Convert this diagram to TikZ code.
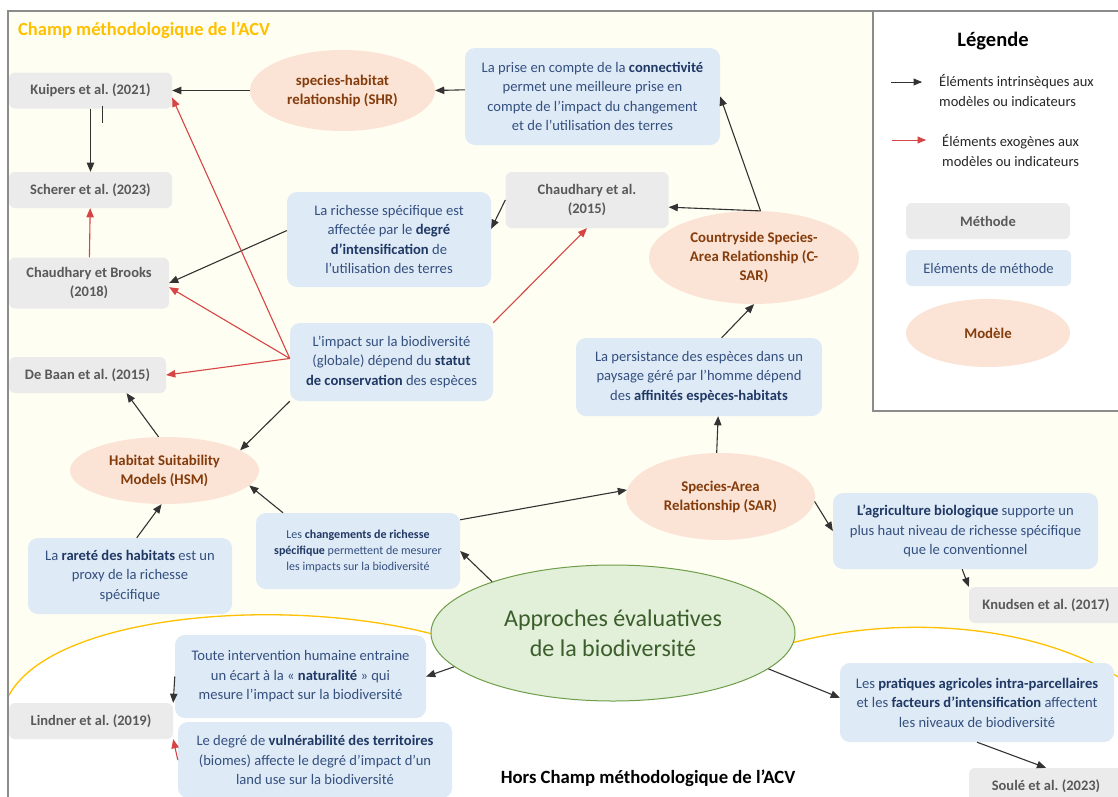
\documentclass[tikz,border=0pt]{standalone}
\usepackage{fontspec}
\setmainfont{Carlito}
\usepackage{tikz}
\usetikzlibrary{arrows}
\usetikzlibrary{positioning}
\usetikzlibrary{shapes,shapes.geometric}
\frenchspacing

\definecolor{creme}{HTML}{FFFEF2}
\definecolor{cadre}{HTML}{8C8C8C}
\definecolor{gris}{HTML}{EBEBEB}
\definecolor{grisfonce}{HTML}{595959}
\definecolor{bleu}{HTML}{DEEAF6}
\definecolor{bleufonce}{HTML}{34507F}
\definecolor{bleugras}{HTML}{1F3864}
\definecolor{saumon}{HTML}{FBE4D5}
\definecolor{brun}{HTML}{843C0C}
\definecolor{vert}{HTML}{E2EFD9}
\definecolor{vertbord}{HTML}{6E9E4A}
\definecolor{vertfonce}{HTML}{3B5E2B}
\definecolor{jaune}{HTML}{FFC000}
\definecolor{rouge}{HTML}{D64545}

\newcommand{\gras}[1]{{\bfseries\color{bleugras}#1}}
\newcommand{\taille}[2]{\fontsize{#1}{#2}\selectfont}

\begin{document}
\begin{tikzpicture}[x=1pt, y=-1pt, >=triangle 45,
  methode/.style={fill=gris, rounded corners=6pt, text=grisfonce, align=center,
    font=\taille{14.5}{19}\bfseries, inner sep=0pt},
  element/.style={fill=bleu, rounded corners=10pt, text=bleufonce, align=center,
    font=\taille{14.6}{19.5}, inner sep=0pt},
  modele/.style={ellipse, fill=saumon, text=brun, align=center,
    font=\taille{14.8}{19}\bfseries, inner sep=0pt},
  legende/.style={align=left, text=black!85, font=\taille{14.5}{20}, inner sep=0pt},
  lien/.style={->, draw=black!80, line width=1.1pt},
  exo/.style={->, draw=rouge, line width=1.1pt}]

\clip (0,0) rectangle (1118,796);
\fill [white] (0,0) rectangle (1118,796);
\fill [creme] (8,11) rectangle (1130,810);

% zone hors champ
\fill [white] (8,697) .. controls (60,595) and (400,590) .. (520,670) -- (720,670)
  .. controls (830,612) and (1040,605) .. (1150,700) -- (1150,810) -- (0,810) -- (0,697) -- cycle;
\draw [jaune, line width=1.3pt] (8,697) .. controls (60,595) and (400,590) .. (520,670);
\draw [jaune, line width=1.3pt] (720,670) .. controls (830,612) and (1040,605) .. (1150,700);
\draw [cadre, line width=1.2pt] (8,810) -- (8,11) -- (1130,11);

\node [anchor=west, text=jaune, font=\taille{18.5}{22}\bfseries, inner sep=0pt] (titre) at (18,30)
  {Champ méthodologique de l’ACV};
\node [font=\taille{18.7}{22}\bfseries, inner sep=0pt] (hors) at (648,778)
  {Hors Champ méthodologique de l’ACV};

% legende
\draw [cadre, fill=white, line width=1.2pt] (1130,11) -- (873,11) -- (873,411) -- (1130,411);
\node [font=\taille{20.5}{24}\bfseries, inner sep=0pt] (leg-titre) at (993,41) {Légende};
\coordinate (leg-d1) at (891,82);
\coordinate (leg-f1) at (922,82);
\coordinate (leg-d2) at (892,140);
\coordinate (leg-f2) at (926,140);
\draw [lien, line width=0.9pt] (leg-d1) -- (leg-f1);
\draw [exo, line width=0.9pt] (leg-d2) -- (leg-f2);
\node [legende, anchor=west] (leg-intr) at (939,90) {Éléments intrinsèques aux\\modèles ou indicateurs};
\node [legende, anchor=west] (leg-exo) at (942,150) {Éléments exogènes aux\\modèles ou indicateurs};
\node [methode, minimum width=164pt, minimum height=36pt] (leg-methode) at (988,221) {Méthode};
\node [element, minimum width=165pt, minimum height=36pt, rounded corners=6pt] (leg-element) at (988.5,268)
  {Eléments de méthode};
\node [modele, minimum width=164pt, minimum height=68pt] (leg-modele) at (988,333) {Modèle};

% methodes
\node [methode, minimum width=163pt, minimum height=36pt] (ref-kuipers) at (90.5,90.5) {Kuipers et al. (2021)};
\node [methode, minimum width=163pt, minimum height=36pt] (ref-scherer) at (90.5,190) {Scherer et al. (2023)};
\node [methode, minimum width=160pt, minimum height=51pt] (ref-brooks) at (89,283) {Chaudhary et Brooks\\(2018)};
\node [methode, minimum width=157pt, minimum height=36pt] (ref-debaan) at (87.5,375) {De Baan et al. (2015)};
\node [methode, minimum width=163pt, minimum height=56pt] (ref-chaudhary) at (587,200) {Chaudhary et al.\\(2015)};
\node [methode, minimum width=154pt, minimum height=36pt] (ref-knudsen) at (1046,605) {Knudsen et al. (2017)};
\node [methode, minimum width=164pt, minimum height=36pt] (ref-lindner) at (91,721) {Lindner et al. (2019)};
\node [methode, minimum width=154pt, minimum height=36pt] (ref-soule) at (1046,786) {Soulé et al. (2023)};

% elements de methode
\node [element, minimum width=255pt, minimum height=97pt] (el-connect) at (592.5,96.5)
  {La prise en compte de la \gras{connectivité}\\permet une meilleure prise en\\compte de l’impact du changement\\et de l’utilisation des terres};
\node [element, minimum width=204pt, minimum height=95pt] (el-richesse) at (389,239.5)
  {La richesse spécifique est\\affectée par le \gras{degré}\\\gras{d’intensification} de\\l’utilisation des terres};
\node [element, minimum width=203pt, minimum height=78pt] (el-statut) at (391.5,362)
  {L’impact sur la biodiversité\\(globale) dépend du \gras{statut}\\\gras{de conservation} des espèces};
\node [element, minimum width=246pt, minimum height=78pt] (el-persist) at (699,377)
  {La persistance des espèces dans un\\paysage géré par l’homme dépend\\des \gras{affinités espèces-habitats}};
\node [element, minimum width=204pt, minimum height=76pt] (el-rarete) at (130,576)
  {La \gras{rareté des habitats} est un\\proxy de la richesse\\spécifique};
\node [element, minimum width=204pt, minimum height=76pt, font=\taille{12}{16}] (el-changement) at (358,551)
  {Les \gras{changements de richesse}\\\gras{spécifique} permettent de mesurer\\les impacts sur la biodiversité};
\node [element, minimum width=265pt, minimum height=76pt] (el-bio) at (965.5,531)
  {\gras{L’agriculture biologique} supporte un\\plus haut niveau de richesse spécifique\\que le conventionnel};
\node [element, minimum width=274pt, minimum height=79pt] (el-pratiques) at (977,702.5)
  {Les \gras{pratiques agricoles intra-parcellaires}\\et les \gras{facteurs d’intensification} affectent\\les niveaux de biodiversité};
\node [element, minimum width=251pt, minimum height=83pt] (el-naturalite) at (300.5,676.5)
  {Toute intervention humaine entraine\\un écart à la « \gras{naturalité} » qui\\mesure l’impact sur la biodiversité};
\node [element, minimum width=274pt, minimum height=76pt] (el-vulnerab) at (315,760)
  {Le degré de \gras{vulnérabilité des territoires}\\(biomes) affecte le degré d’impact d’un\\land use sur la biodiversité};

% modeles
\node [modele, minimum width=185pt, minimum height=81pt] (mod-shr) at (342.5,90.5) {species-habitat\\relationship (SHR)};
\node [modele, minimum width=210pt, minimum height=93pt] (mod-csar) at (754,257.5)
  {Countryside Species-\\Area Relationship (C-\\SAR)};
\node [modele, minimum width=189pt, minimum height=67pt] (mod-hsm) at (164.5,470.5) {Habitat Suitability\\Models (HSM)};
\node [modele, minimum width=189pt, minimum height=87pt] (mod-sar) at (720.5,496.5) {Species-Area\\Relationship (SAR)};

\node [ellipse, fill=vert, draw=vertbord, line width=1pt, text=vertfonce, align=center,
  font=\taille{24}{30}, minimum width=364pt, minimum height=136pt, inner sep=0pt] (approches) at (613,633)
  {Approches évaluatives\\de la biodiversité};

% liens intrinseques
\draw [lien] (mod-shr) -- (ref-kuipers);
\draw [lien] (el-connect.177) -- (mod-shr.east);
\draw [lien] (ref-kuipers) -- (ref-scherer);
\draw [black!80, line width=1pt] ([xshift=12pt,yshift=3pt]ref-kuipers.south) -- ++(0,17);
\draw [lien] (el-richesse.175) -- (ref-brooks.east);
\draw [lien] (ref-chaudhary.west) -- (el-richesse.6);
\draw [lien] (mod-csar.82) -- (ref-chaudhary.-5);
\draw [lien] (mod-csar.82) -- (el-connect.east);
\draw [lien] (el-statut.south west) -- (mod-hsm.15);
\draw [lien] (mod-hsm.100) -- (ref-debaan.-25);
\draw [lien] (el-rarete.80) -- (mod-hsm.265);
\draw [lien] (el-changement.153) -- (mod-hsm.-10);
\draw [lien] (el-changement.17) -- (mod-sar.176);
\draw [lien] (approches.157) -- (el-changement.east);
\draw [lien] (mod-sar.95) -- (el-persist.-64);
\draw [lien] (el-persist.60) -- (mod-csar.south);
\draw [lien] (mod-sar.-3) -- (el-bio.west);
\draw [lien] (el-bio.265) -- (ref-knudsen.north west);
\draw [lien] (approches.192) -- (el-naturalite.east);
\draw [lien] (el-naturalite.west) -- (ref-lindner.north east);
\draw [lien] (approches.-13) -- (el-pratiques.178);
\draw [lien] (el-pratiques.south) -- (ref-soule.north);

% liens exogenes
\foreach \cible in {ref-kuipers.-5, ref-brooks.-3, ref-debaan.east}
  \draw [exo] (el-statut.178) -- (\cible);
\draw [exo] (el-statut.north east) -- (ref-chaudhary.south);
\draw [exo] (ref-brooks) -- (ref-scherer);
\draw [exo] (el-vulnerab.west) -- (ref-lindner.south east);

\end{tikzpicture}
\end{document}
